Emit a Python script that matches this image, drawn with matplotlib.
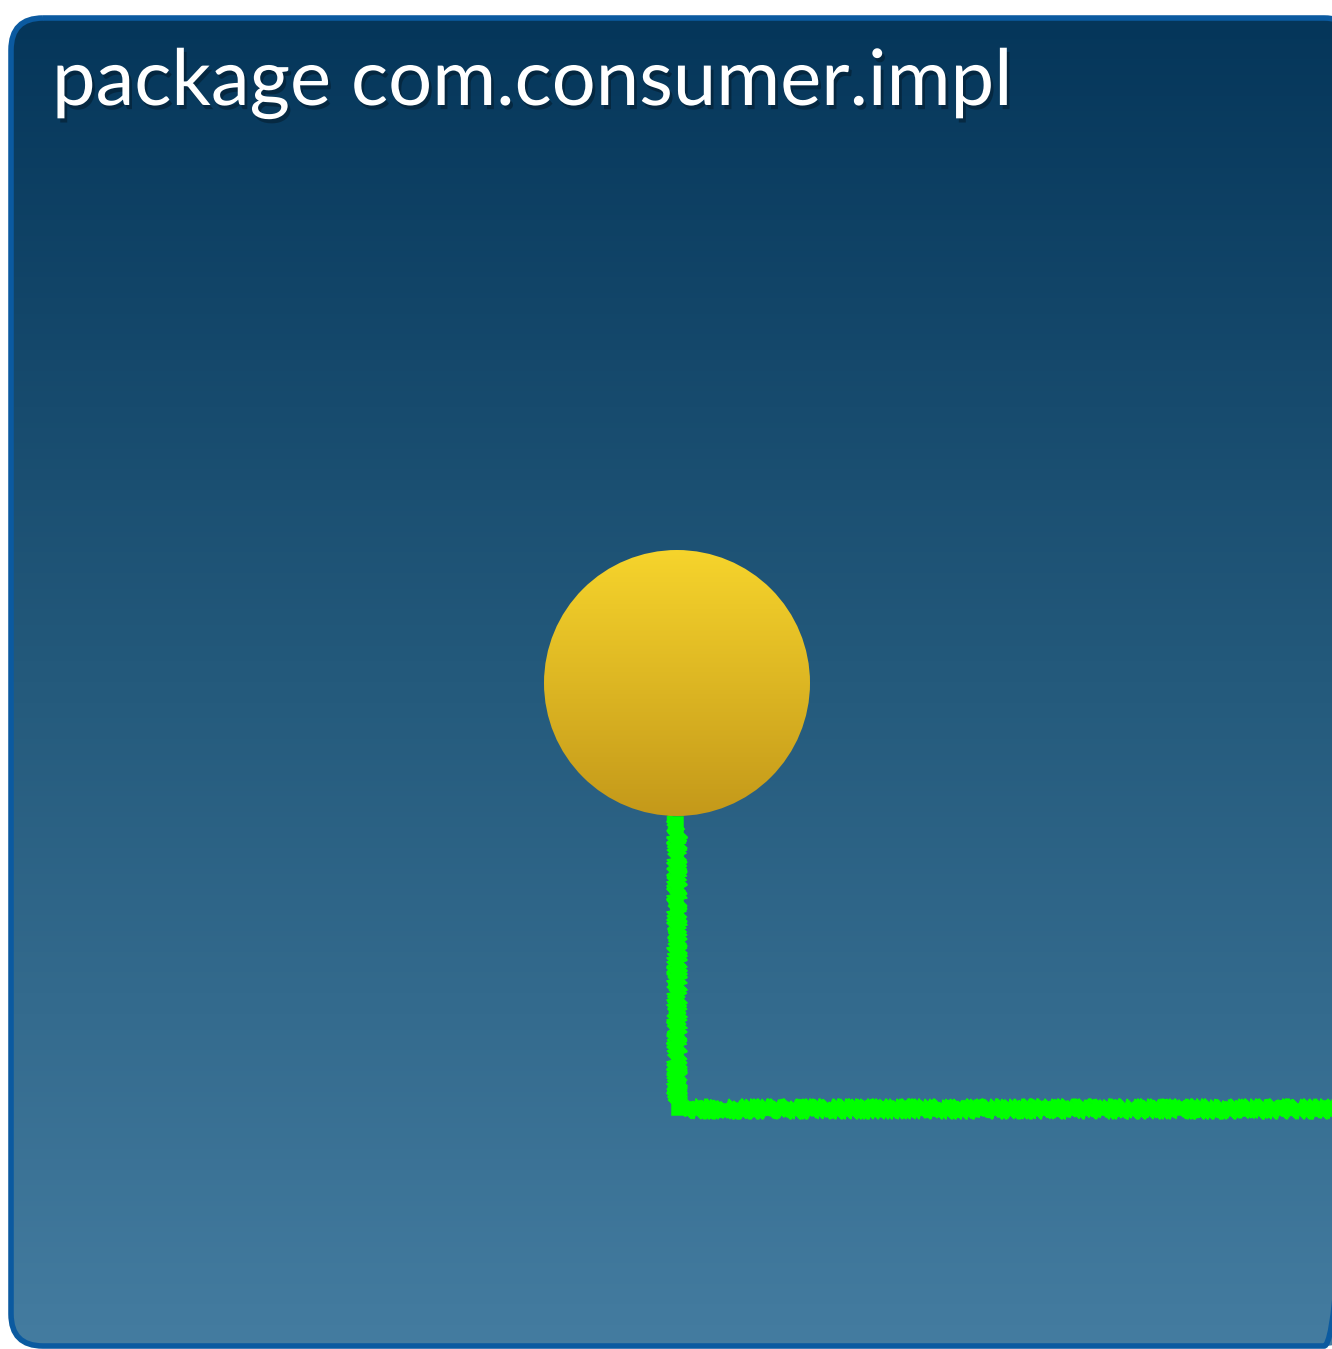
import numpy as np
import matplotlib
matplotlib.use("Agg")
from matplotlib import pyplot as plt
from matplotlib.patches import FancyBboxPatch, Circle
from matplotlib.colors import LinearSegmentedColormap
import matplotlib.patheffects as pe

W, H = 1332, 1349

# diagram content
title = "package com.consumer.impl"
node_center = (677, 683)
node_radius = 133
wire_x = [677, 677, 1340]
wire_y = [822, 1109, 1109]

box_bg = ["#05365a", "#245a7c", "#447ca0"]
node_fill = ["#f6d42c", "#c4991a"]

fig = plt.figure(figsize=(W / 100, H / 100), dpi=100)
ax = fig.add_axes([0, 0, 1, 1])
ax.axis("off")

# package box with vertical gradient
box = FancyBboxPatch((11, 18), 1345, 1328, boxstyle="round,pad=0,rounding_size=32",
                     facecolor="none", edgecolor="#0b5aa0", linewidth=4, zorder=3)
ax.add_patch(box)
bg_cmap = LinearSegmentedColormap.from_list("bg", box_bg)
grad = np.linspace(0, 1, 256).reshape(-1, 1)
im = ax.imshow(grad, cmap=bg_cmap, extent=(11, 1356, 1346, 18), aspect="auto", zorder=1)
im.set_clip_path(box)

ax.text(52, 105, title, fontsize=56, family=["Lato", "DejaVu Sans"], color="white",
        va="baseline", ha="left", zorder=5,
        path_effects=[pe.withSimplePatchShadow(offset=(2, -3), shadow_rgbFace="black", alpha=0.3)])

# node circle with gradient
circ = Circle(node_center, node_radius, facecolor="none", edgecolor="none", zorder=4)
ax.add_patch(circ)
node_cmap = LinearSegmentedColormap.from_list("node", node_fill)
cx, cy = node_center
im2 = ax.imshow(grad, cmap=node_cmap,
                extent=(cx - node_radius, cx + node_radius, cy + node_radius, cy - node_radius),
                aspect="auto", zorder=4)
im2.set_clip_path(circ)

# chalky green wire: solid core plus ragged thin strokes along its edges
np.random.seed(3)
ax.plot(wire_x, wire_y, color="#00ff00", linewidth=9, solid_joinstyle="miter", zorder=3.5)
for off in [-7, -6, -5, -4, 4, 5, 6, 7]:
    xs = [x + off for x in wire_x]
    ys = [y + off for y in wire_y]
    ln, = ax.plot(xs, ys, color="#00ff00", linewidth=1.3, zorder=3.5)
    ln.set_sketch_params(3, 2, 8)

ax.set_xlim(0, W)
ax.set_ylim(H, 0)
fig.savefig("out.png", dpi=100)
